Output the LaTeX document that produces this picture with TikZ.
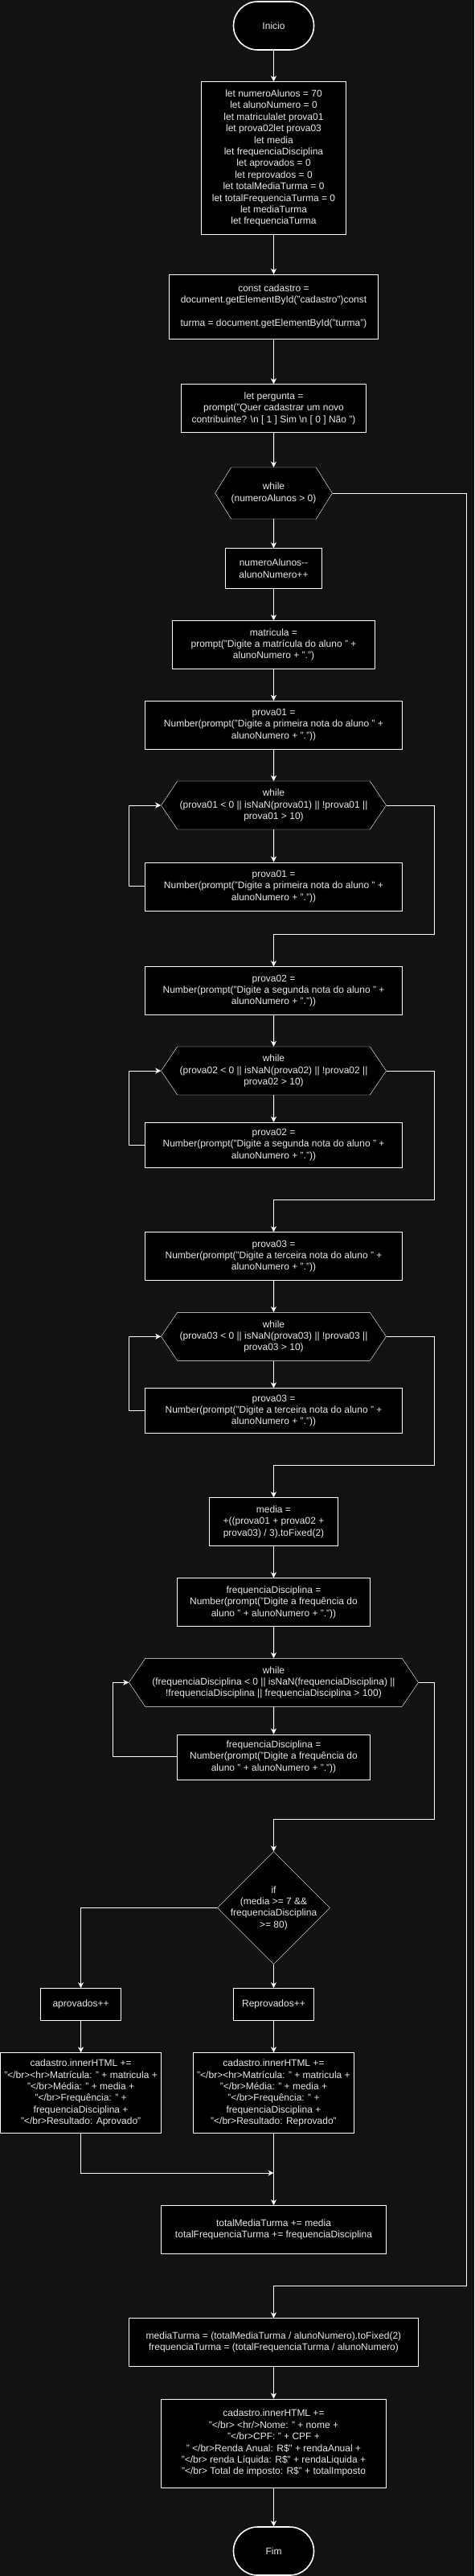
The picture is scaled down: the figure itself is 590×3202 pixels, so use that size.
\documentclass[tikz,border=0pt]{standalone}
\usepackage{fontspec}
\setmainfont{Liberation Sans}
\usetikzlibrary{shapes.geometric,shapes.symbols,arrows.meta}
\definecolor{fundo}{RGB}{18,18,18}
\definecolor{letra}{RGB}{232,232,232}

\begin{document}
\begin{tikzpicture}[x=1pt,y=-1pt,
   every node/.style={draw=white,fill=black,text=letra,align=center,inner sep=0pt,
      font=\fontsize{12}{14.4}\selectfont},
   caixa/.style={rectangle,minimum width=#1,minimum height=60pt},
   termo/.style={rectangle,rounded corners=30pt,line width=1.6pt,
      minimum width=100pt,minimum height=60pt},
   laco/.style={signal,signal to=east and west,signal pointer angle=112,
      minimum width=#1,minimum height=60pt},
   seta/.style={draw=white,line width=1pt,-{Stealth[length=7pt,width=7pt,inset=2pt]}}]

\useasboundingbox[fill=fundo] (0,0) rectangle (590,3202);

\node[termo] (ini) at (340.5,32) {Inicio};
\node[caixa=180pt,minimum height=190pt] (vars) at (340.5,196.5)
   {let numeroAlunos = 70\\let alunoNumero = 0\\let matriculalet prova01\\
    let prova02let prova03\\let media\\let frequenciaDisciplina\\
    let aprovados = 0\\let reprovados = 0\\let totalMediaTurma = 0\\
    let totalFrequenciaTurma = 0\\let mediaTurma\\let frequenciaTurma};
\node[caixa=260pt,minimum height=80pt] (cad) at (340.5,381)
   {const cadastro =\\document.getElementById("cadastro")const\\ \\
    turma = document.getElementById("turma")};
\node[caixa=230pt] (perg) at (340.5,507.5)
   {let pergunta =\\prompt("Quer cadastrar um novo\\
    contribuinte? \textbackslash n [ 1 ] Sim \textbackslash n [ 0 ] Não ")};
\node[laco=135pt,minimum height=64pt,signal pointer angle=116] (w1) at (340.5,613)
   {while\\(numeroAlunos > 0)};
\node[caixa=120pt,minimum height=50pt] (inc) at (340.5,706.5)
   {numeroAlunos-{}-\\alunoNumero++};
\node[caixa=252pt] (mat) at (340.5,801.3)
   {matricula =\\prompt("Digite a matrícula do aluno " +\\alunoNumero + ".")};

\node[caixa=320pt] (p1) at (340.5,901)
   {prova01 =\\Number(prompt("Digite a primeira nota do aluno " +\\alunoNumero + "."))};
\node[laco=280pt] (w2) at (340.5,1001)
   {while\\(prova01 < 0 || isNaN(prova01) || !prova01 ||\\prova01 > 10)};
\node[caixa=320pt] (p1b) at (340.5,1101.7)
   {prova01 =\\Number(prompt("Digite a primeira nota do aluno " +\\alunoNumero + "."))};

\node[caixa=320pt] (p2) at (340.5,1231.5)
   {prova02 =\\Number(prompt("Digite a segunda nota do aluno " +\\alunoNumero + "."))};
\node[laco=280pt] (w3) at (340.5,1331)
   {while\\(prova02 < 0 || isNaN(prova02) || !prova02 ||\\prova02 > 10)};
\node[caixa=320pt,minimum height=56pt] (p2b) at (340.5,1423)
   {prova02 =\\Number(prompt("Digite a segunda nota do aluno " +\\alunoNumero + "."))};

\node[caixa=320pt] (p3) at (340.5,1561.5)
   {prova03 =\\Number(prompt("Digite a terceira nota do aluno " +\\alunoNumero + "."))};
\node[laco=280pt] (w4) at (340.5,1661.3)
   {while\\(prova03 < 0 || isNaN(prova03) || !prova03 ||\\prova03 > 10)};
\node[caixa=320pt,minimum height=56pt] (p3b) at (340.5,1753.5)
   {prova03 =\\Number(prompt("Digite a terceira nota do aluno " +\\alunoNumero + "."))};

\node[caixa=160pt] (med) at (340.5,1891.5)
   {media =\\+((prova01 + prova02 +\\prova03) / 3).toFixed(2)};
\node[caixa=240pt] (fd) at (340.5,1991.5)
   {frequenciaDisciplina =\\Number(prompt("Digite a frequência do\\aluno " + alunoNumero + "."))};
\node[laco=360pt] (w5) at (340.5,2091.3)
   {while\\(frequenciaDisciplina < 0 || isNaN(frequenciaDisciplina) ||\\
    !frequenciaDisciplina || frequenciaDisciplina > 100)};
\node[caixa=240pt,minimum height=56pt] (fdb) at (340.5,2183.7)
   {frequenciaDisciplina =\\Number(prompt("Digite a frequência do\\aluno " + alunoNumero + "."))};

\node[diamond,aspect=1,inner sep=-18pt,minimum width=140pt,minimum height=140pt] (se) at (340.5,2371.5)
   {if\\(media >= 7 \&\&\\frequenciaDisciplina\\>= 80)};
\node[caixa=100pt,minimum height=40pt] (apr) at (100.6,2491.3) {aprovados++};
\node[caixa=100pt,minimum height=40pt] (rep) at (340.5,2491.3) {Reprovados++};
\node[caixa=200pt,minimum height=100pt] (htA) at (100.6,2601.5)
   {cadastro.innerHTML +=\\"</br><hr>Matrícula: " + matricula +\\"</br>Média: " + media +\\
    "</br>Frequência: " +\\frequenciaDisciplina +\\"</br>Resultado: Aprovado"};
\node[caixa=200pt,minimum height=100pt] (htR) at (340.5,2601.5)
   {cadastro.innerHTML +=\\"</br><hr>Matrícula: " + matricula +\\"</br>Média: " + media +\\
    "</br>Frequência: " +\\frequenciaDisciplina +\\"</br>Resultado: Reprovado"};
\coordinate (junta) at (340.5,2701);
\node[caixa=280pt] (tot) at (340.5,2771.3)
   {totalMediaTurma += media\\totalFrequenciaTurma += frequenciaDisciplina};

\coordinate (saida) at (580.5,2841.3);
\node[caixa=360pt] (mt) at (340.5,2911.5)
   {mediaTurma = (totalMediaTurma / alunoNumero).toFixed(2)\\
    frequenciaTurma = (totalFrequenciaTurma / alunoNumero)};
\node[caixa=280pt,minimum height=110pt] (fh) at (340.5,3036.7)
   {cadastro.innerHTML +=\\"</br> <hr/>Nome: " + nome +\\"</br>CPF: " + CPF +\\
    " </br>Renda Anual: R\$" + rendaAnual +\\"</br> renda Líquida: R\$" + rendaLiquida +\\
    "</br> Total de imposto: R\$" + totalImposto};
\node[termo] (fim) at (340.5,3171) {Fim};

\draw[seta] (ini) -- (vars);
\draw[seta] (vars) -- (cad);
\draw[seta] (cad) -- (perg);
\draw[seta] (perg) -- (w1);
\draw[seta] (w1) -- (inc);
\draw[seta] (inc) -- (mat);
\draw[seta] (mat) -- (p1);
\draw[seta] (p1) -- (w2);
\draw[seta] (w2) -- (p1b);
\draw[seta] (p1b.west) -- ++(-20,0) |- (w2.west);
\draw[seta] (w2.east) -- ++(60,0) -- ++(0,160) -| (p2.north);
\draw[seta] (p2) -- (w3);
\draw[seta] (w3) -- (p2b);
\draw[seta] (p2b.west) -- ++(-20,0) |- (w3.west);
\draw[seta] (w3.east) -- ++(60,0) -- ++(0,160) -| (p3.north);
\draw[seta] (p3) -- (w4);
\draw[seta] (w4) -- (p3b);
\draw[seta] (p3b.west) -- ++(-20,0) |- (w4.west);
\draw[seta] (w4.east) -- ++(60,0) -- ++(0,160) -| (med.north);
\draw[seta] (med) -- (fd);
\draw[seta] (fd) -- (w5);
\draw[seta] (w5) -- (fdb);
\draw[seta] (fdb.west) -- ++(-80,0) |- (w5.west);
\draw[seta] (w5.east) -- ++(20,0) -- ++(0,170) -| (se.north);
\draw[seta] (se.west) -| (apr.north);
\draw[seta] (se) -- (rep);
\draw[seta] (apr) -- (htA);
\draw[seta] (rep) -- (htR);
\draw[seta] (htA.south) |- (junta);
\draw[seta] (htR) -- (tot);
\draw[seta] (w1.east) -| (saida) -| (mt.north);
\draw[seta] (mt) -- (fh);
\draw[seta] (fh) -- (fim);

\end{tikzpicture}
\end{document}
